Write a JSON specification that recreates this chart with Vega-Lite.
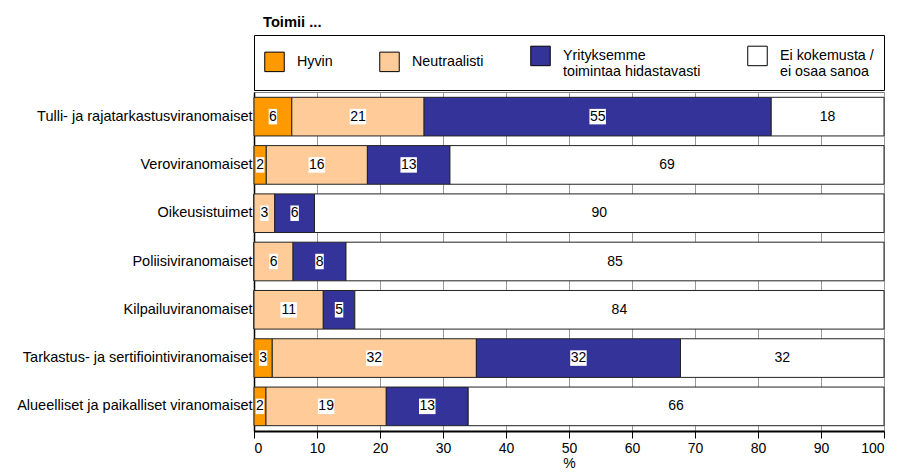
{
  "$schema": "https://vega.github.io/schema/vega-lite/v6.json",
  "width": 630,
  "height": 339,
  "autosize": {"type": "none"},
  "padding": {"left": 254, "top": 92, "right": 13, "bottom": 42},
  "config": {
    "font": "Liberation Sans",
    "view": {"stroke": "#808080", "strokeWidth": 1}
  },
  "title": {
    "text": "Toimii ...",
    "frame": "group",
    "anchor": "start",
    "fontSize": 14.7,
    "fontWeight": "bold",
    "color": "black",
    "dx": 9,
    "offset": 5
  },
  "data": {
    "values": [
      {"cat": "Tulli- ja rajatarkastusviranomaiset", "resp": "Hyvin", "order": 1, "v": 6.0},
      {"cat": "Tulli- ja rajatarkastusviranomaiset", "resp": "Neutraalisti", "order": 2, "v": 21.0},
      {"cat": "Tulli- ja rajatarkastusviranomaiset", "resp": "Yrityksemme toimintaa hidastavasti", "order": 3, "v": 55.1},
      {"cat": "Tulli- ja rajatarkastusviranomaiset", "resp": "Ei kokemusta / ei osaa sanoa", "order": 4, "v": 17.9},
      {"cat": "Veroviranomaiset", "resp": "Hyvin", "order": 1, "v": 1.95},
      {"cat": "Veroviranomaiset", "resp": "Neutraalisti", "order": 2, "v": 16.05},
      {"cat": "Veroviranomaiset", "resp": "Yrityksemme toimintaa hidastavasti", "order": 3, "v": 13.1},
      {"cat": "Veroviranomaiset", "resp": "Ei kokemusta / ei osaa sanoa", "order": 4, "v": 68.9},
      {"cat": "Oikeusistuimet", "resp": "Hyvin", "order": 1, "v": 0},
      {"cat": "Oikeusistuimet", "resp": "Neutraalisti", "order": 2, "v": 3.3},
      {"cat": "Oikeusistuimet", "resp": "Yrityksemme toimintaa hidastavasti", "order": 3, "v": 6.3},
      {"cat": "Oikeusistuimet", "resp": "Ei kokemusta / ei osaa sanoa", "order": 4, "v": 90.4},
      {"cat": "Poliisiviranomaiset", "resp": "Hyvin", "order": 1, "v": 0},
      {"cat": "Poliisiviranomaiset", "resp": "Neutraalisti", "order": 2, "v": 6.2},
      {"cat": "Poliisiviranomaiset", "resp": "Yrityksemme toimintaa hidastavasti", "order": 3, "v": 8.4},
      {"cat": "Poliisiviranomaiset", "resp": "Ei kokemusta / ei osaa sanoa", "order": 4, "v": 85.4},
      {"cat": "Kilpailuviranomaiset", "resp": "Hyvin", "order": 1, "v": 0},
      {"cat": "Kilpailuviranomaiset", "resp": "Neutraalisti", "order": 2, "v": 11.0},
      {"cat": "Kilpailuviranomaiset", "resp": "Yrityksemme toimintaa hidastavasti", "order": 3, "v": 5.0},
      {"cat": "Kilpailuviranomaiset", "resp": "Ei kokemusta / ei osaa sanoa", "order": 4, "v": 84.0},
      {"cat": "Tarkastus- ja sertifiointiviranomaiset", "resp": "Hyvin", "order": 1, "v": 2.9},
      {"cat": "Tarkastus- ja sertifiointiviranomaiset", "resp": "Neutraalisti", "order": 2, "v": 32.4},
      {"cat": "Tarkastus- ja sertifiointiviranomaiset", "resp": "Yrityksemme toimintaa hidastavasti", "order": 3, "v": 32.4},
      {"cat": "Tarkastus- ja sertifiointiviranomaiset", "resp": "Ei kokemusta / ei osaa sanoa", "order": 4, "v": 32.3},
      {"cat": "Alueelliset ja paikalliset viranomaiset", "resp": "Hyvin", "order": 1, "v": 1.9},
      {"cat": "Alueelliset ja paikalliset viranomaiset", "resp": "Neutraalisti", "order": 2, "v": 19.1},
      {"cat": "Alueelliset ja paikalliset viranomaiset", "resp": "Yrityksemme toimintaa hidastavasti", "order": 3, "v": 13.0},
      {"cat": "Alueelliset ja paikalliset viranomaiset", "resp": "Ei kokemusta / ei osaa sanoa", "order": 4, "v": 66.0}
    ]
  },
  "transform": [
    {"stack": "v", "groupby": ["cat"], "sort": [{"field": "order", "order": "ascending"}], "as": ["x0", "x1"]},
    {"calculate": "(datum.x0 + datum.x1) / 2", "as": "mid"}
  ],
  "encoding": {
    "y": {
      "field": "cat",
      "type": "nominal",
      "sort": [
        "Tulli- ja rajatarkastusviranomaiset",
        "Veroviranomaiset",
        "Oikeusistuimet",
        "Poliisiviranomaiset",
        "Kilpailuviranomaiset",
        "Tarkastus- ja sertifiointiviranomaiset",
        "Alueelliset ja paikalliset viranomaiset"
      ],
      "scale": {"paddingInner": 0.2, "paddingOuter": 0.11},
      "axis": {
        "title": null,
        "ticks": false,
        "labelPadding": 2,
        "labelFontSize": 14.5,
        "labelColor": "black",
        "labelLimit": 300,
        "domainColor": "black",
        "domainWidth": 1.5,
        "grid": false
      }
    }
  },
  "layer": [
    {
      "mark": {"type": "bar", "stroke": "#222222", "strokeWidth": 1},
      "encoding": {
        "x": {
          "field": "x0",
          "type": "quantitative",
          "scale": {"domain": [0, 100], "nice": false},
          "axis": {
            "title": "%",
            "titleFontSize": 14,
            "titleFontWeight": "normal",
            "titleColor": "black",
            "titlePadding": 1,
            "values": [0, 10, 20, 30, 40, 50, 60, 70, 80, 90, 100],
            "labelFontSize": 14,
            "labelColor": "black",
            "labelPadding": 3,
            "tickColor": "black",
            "tickSize": 7,
            "domainColor": "black",
            "domainWidth": 2,
            "grid": true,
            "gridColor": "#999999",
            "gridWidth": 1
          }
        },
        "x2": {"field": "x1"},
        "color": {
          "field": "resp",
          "type": "nominal",
          "scale": {
            "domain": ["Hyvin", "Neutraalisti", "Yrityksemme toimintaa hidastavasti", "Ei kokemusta / ei osaa sanoa"],
            "range": ["#FF9900", "#FFCC99", "#333399", "#FFFFFF"]
          },
          "legend": {
            "orient": "none",
            "legendX": 0,
            "legendY": -57,
            "direction": "horizontal",
            "columns": 4,
            "title": null,
            "symbolType": "square",
            "symbolSize": 380,
            "symbolStrokeColor": "black",
            "symbolStrokeWidth": 1,
            "labelFontSize": 14.3,
            "labelColor": "black",
            "labelOffset": 12,
            "labelLimit": 300,
            "columnPadding": 44,
            "padding": 10,
            "strokeColor": "black",
            "fillColor": "white",
            "labelExpr": "datum.label == 'Yrityksemme toimintaa hidastavasti' ? ['Yrityksemme', 'toimintaa hidastavasti'] : datum.label == 'Ei kokemusta / ei osaa sanoa' ? ['Ei kokemusta /', 'ei osaa sanoa'] : datum.label"
          }
        }
      }
    },
    {
      "transform": [{"filter": "datum.v >= 0.5 && datum.v < 9.5"}],
      "mark": {"type": "point", "shape": "M-0.548,-1H0.548V1H-0.548Z", "filled": true, "color": "white", "opacity": 1, "size": 240, "strokeWidth": 0},
      "encoding": {"x": {"field": "mid", "type": "quantitative"}}
    },
    {
      "transform": [{"filter": "datum.v >= 9.5"}],
      "mark": {"type": "point", "shape": "M-1,-0.94H1V0.94H-1Z", "filled": true, "color": "white", "opacity": 1, "size": 272, "strokeWidth": 0},
      "encoding": {"x": {"field": "mid", "type": "quantitative"}}
    },
    {
      "transform": [{"filter": "datum.v >= 0.5"}],
      "mark": {"type": "text", "fontSize": 14, "color": "black", "baseline": "middle", "align": "center"},
      "encoding": {
        "x": {"field": "mid", "type": "quantitative"},
        "text": {"field": "v", "type": "quantitative", "format": ".0f"}
      }
    }
  ]
}
